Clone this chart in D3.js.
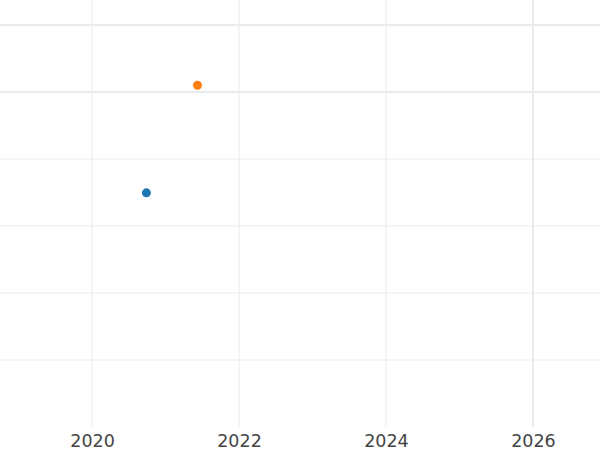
<!DOCTYPE html>
<html><head><meta charset="utf-8">
<script src="https://cdn.jsdelivr.net/npm/d3@7"></script>
<style>body{margin:0;background:#fff}svg{display:block}</style>
</head><body>
<script>
const seriesNames = ["A", "B"];
const xValues = [2020.74, 2021.435];
const yValues = [3.495, 5.1];
const colors = ["#1f77b4", "#ff7f0e"];
const xTicks = [2020, 2022, 2024, 2026];
const yTicks = [1, 2, 3, 4, 5, 6];

const W = 600, H = 450;
const svg = d3.select("body").append("svg").attr("width", W).attr("height", H);
const x = d3.scaleLinear().domain([2018.748, 2026.912]).range([0, W]);
const y = d3.scaleLinear().domain([0, 6]).range([427, 25]);

const g = svg.append("g");
g.selectAll("line.h").data(yTicks).join("line")
  .attr("x1", 0).attr("x2", W)
  .attr("y1", d => y(d)).attr("y2", d => y(d))
  .attr("stroke", "#ebebeb")
  .attr("stroke-width", d => d >= 5 ? 2 : 1);
g.selectAll("line.v").data(xTicks).join("line")
  .attr("x1", d => x(d)).attr("x2", d => x(d))
  .attr("y1", 0).attr("y2", 427)
  .attr("stroke", "#ebebeb")
  .attr("stroke-width", d => d === 2026 ? 2 : 1);

const axis = d3.axisBottom(x).tickValues(xTicks).tickFormat(d3.format("d")).tickSize(0).tickPadding(0);
const ax = svg.append("g").attr("transform", "translate(0,427)").call(axis);
ax.select(".domain").remove();
ax.selectAll("text").attr("font-family", "DejaVu Sans").attr("font-size", 17.5)
  .attr("fill", "#444").attr("dy", null).attr("y", 20);

svg.selectAll("circle").data(xValues.map((v, i) => ({x: v, y: yValues[i], c: colors[i]})))
  .join("circle")
  .attr("cx", d => x(d.x)).attr("cy", d => y(d.y)).attr("r", 4.5)
  .attr("fill", d => d.c);
</script>
</body></html>
